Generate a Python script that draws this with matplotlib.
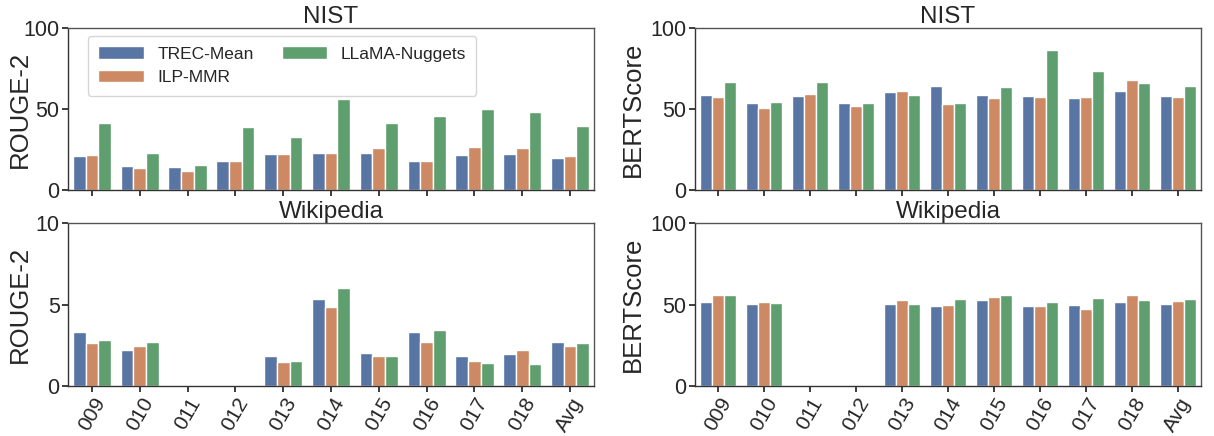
import matplotlib
matplotlib.use("Agg")
import matplotlib.pyplot as plt
import numpy as np
import seaborn as sns

sns.set_theme(style="ticks")
plt.rcParams['font.family'] = ['Liberation Sans', 'DejaVu Sans']

categories = ["009", "010", "011", "012", "013", "014", "015", "016", "017", "018", "Avg"]
methods = ["TREC-Mean", "ILP-MMR", "LLaMA-Nuggets"]
colors = ["#5875A4", "#CC8963", "#5F9E6E"]

nist_rouge_trec = [20.8, 14.7, 14.1, 17.6, 22.4, 22.9, 22.9, 17.8, 21.8, 22.2, 19.6]
nist_rouge_ilp = [21.4, 13.5, 11.8, 17.8, 22.4, 23.1, 25.9, 17.8, 26.3, 26.1, 20.8]
nist_rouge_llama = [41.4, 22.7, 15.3, 39.0, 32.9, 55.9, 41.4, 45.7, 50.0, 48.2, 39.2]

nist_bert_trec = [58.4, 53.5, 58.0, 53.7, 60.4, 64.5, 58.6, 58.2, 56.9, 61.0, 58.2]
nist_bert_ilp = [57.6, 50.6, 59.2, 51.8, 61.4, 53.1, 56.9, 57.6, 57.6, 67.8, 57.3]
nist_bert_llama = [66.9, 54.5, 66.7, 53.7, 58.8, 53.7, 63.7, 86.5, 73.3, 66.1, 64.3]

wiki_rouge_trec = [3.33, 2.23, 0, 0, 1.84, 5.34, 2.04, 3.33, 1.84, 1.94, 2.72]
wiki_rouge_ilp = [2.64, 2.43, 0, 0, 1.45, 4.85, 1.84, 2.72, 1.53, 2.23, 2.43]
wiki_rouge_llama = [2.84, 2.72, 0, 0, 1.53, 6.03, 1.84, 3.46, 1.43, 1.35, 2.64]

wiki_bert_trec = [51.5, 50.3, 0, 0, 50.3, 49.3, 53.0, 49.3, 49.5, 51.3, 50.5]
wiki_bert_ilp = [55.8, 51.7, 0, 0, 52.6, 49.7, 54.4, 49.3, 47.0, 55.6, 52.1]
wiki_bert_llama = [55.8, 51.1, 0, 0, 50.3, 53.2, 55.6, 51.7, 54.0, 52.8, 53.2]

fig = plt.figure(figsize=(12.14, 4.36), dpi=100)
W, H = 1214, 436
def add_ax(x0, y0, x1, y1):
    return fig.add_axes([x0 / W, 1 - y1 / H, (x1 - x0) / W, (y1 - y0) / H])

ax_tl = add_ax(68, 28, 594, 190)
ax_tr = add_ax(695, 28, 1201, 190)
ax_bl = add_ax(68, 223, 594, 386)
ax_br = add_ax(695, 223, 1201, 386)

x = np.arange(len(categories))
bw = 0.8 / 3

def draw(ax, series, ymax, yticks, title, ylabel, show_x, label_right_px):
    for i, (vals, c, m) in enumerate(zip(series, colors, methods)):
        ax.bar(x + (i - 1) * bw, vals, width=bw, color=c, edgecolor="white",
               linewidth=1.0, label=m)
    ax.set_xlim(-0.5, len(categories) - 0.5)
    ax.set_ylim(0, ymax)
    ax.set_yticks(yticks)
    ax.set_xticks(x)
    if show_x:
        ax.set_xticklabels(categories, rotation=60, fontsize=15)
    else:
        ax.set_xticklabels([])
    ax.tick_params(axis="y", labelsize=15.5, length=4, pad=2)
    ax.tick_params(axis="x", length=4, pad=2)
    ax.set_title(title, fontsize=17.5, pad=2)
    ax.set_ylabel(ylabel, fontsize=18.5)
    bbox = ax.get_position()
    ax_left_px = bbox.x0 * W
    ax_w_px = bbox.width * W
    # y-label anchor is its right edge (va='bottom' after 90° rotation)
    ax.yaxis.set_label_coords((label_right_px - ax_left_px) / ax_w_px, 0.5)
    for s in ax.spines.values():
        s.set_color("#555555")
        s.set_linewidth(1.0)
    ax.spines["left"].set_color("#333333")
    ax.spines["bottom"].set_color("#333333")

draw(ax_tl, [nist_rouge_trec, nist_rouge_ilp, nist_rouge_llama], 100, [0, 50, 100], "NIST", "ROUGE-2", False, 32)
draw(ax_tr, [nist_bert_trec, nist_bert_ilp, nist_bert_llama], 100, [0, 50, 100], "NIST", "BERTScore", False, 645)
draw(ax_bl, [wiki_rouge_trec, wiki_rouge_ilp, wiki_rouge_llama], 10, [0, 5, 10], "Wikipedia", "ROUGE-2", True, 32)
draw(ax_br, [wiki_bert_trec, wiki_bert_ilp, wiki_bert_llama], 100, [0, 50, 100], "Wikipedia", "BERTScore", True, 645)

ax_tl.legend(loc="upper left", bbox_to_anchor=(20 / 526, 1 - 8 / 162), borderaxespad=0,
             ncol=2, fontsize=12.5, frameon=True,
             handlelength=2.6, columnspacing=1.6, borderpad=0.6)

fig.savefig("out.png", dpi=100)
